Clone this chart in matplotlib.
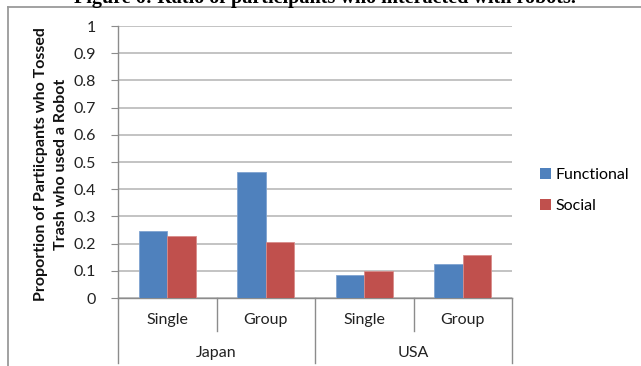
import matplotlib
matplotlib.use("Agg")
import matplotlib.pyplot as plt
import numpy as np
from matplotlib.lines import Line2D
from matplotlib.patches import Patch

# ---- data ----
countries = ["Japan", "USA"]
conditions = ["Single", "Group", "Single", "Group"]
series_names = ["Functional", "Social"]
functional = [0.247, 0.462, 0.083, 0.125]
social = [0.229, 0.206, 0.099, 0.158]
yticks = [0, 0.1, 0.2, 0.3, 0.4, 0.5, 0.6, 0.7, 0.8, 0.9, 1]
ytick_labels = ["0", "0.1", "0.2", "0.3", "0.4", "0.5", "0.6", "0.7", "0.8", "0.9", "1"]
title = "Figure 6: Ratio of participants who interacted with robots."
ylabel = "Proportion of Partiicpants who Tossed\nTrash who used a Robot"

BLUE = "#4F81BD"
RED = "#C0504D"
GRID = "#b3b3b3"
AXC = "#8c8c8c"
FONT = ["Lato", "DejaVu Sans"]
FS = 11.5

plt.rcParams["font.family"] = FONT

W, H = 641, 366
fig = plt.figure(figsize=(W / 100, H / 100), dpi=100)
ax = fig.add_axes([118 / W, 1 - 298 / H, (512 - 118) / W, (298 - 26) / H])

x = np.arange(len(conditions))
bw = 0.287
ax.bar(x - bw / 2, functional, bw, color=BLUE, edgecolor="#7fa3d0", linewidth=0.6, zorder=3,
       label=series_names[0])
ax.bar(x + bw / 2, social, bw, color=RED, edgecolor="#d88c8a", linewidth=0.6, zorder=3,
       label=series_names[1])

ax.set_xlim(-0.5, len(conditions) - 0.5)
ax.set_ylim(0, 1)
ax.set_yticks(yticks)
ax.set_yticklabels(ytick_labels, fontsize=FS, color="#222222")
ax.tick_params(axis="y", length=5, color=AXC, pad=11)
ax.set_xticks([])
ax.yaxis.grid(True, color=GRID, linewidth=1.1, zorder=0)
ax.set_axisbelow(True)
for s in ["top", "right"]:
    ax.spines[s].set_visible(False)
ax.spines["left"].set_color(AXC)
ax.spines["bottom"].set_color(AXC)
ax.spines["left"].set_linewidth(1.0)
ax.spines["bottom"].set_linewidth(1.0)

# multi-level category axis
trans = ax.get_xaxis_transform()
inner_b = [0.5, 2.5]
outer_b = [-0.5, 1.5, 3.5]
for b in inner_b:
    ax.add_line(Line2D([b, b], [0, -0.121], transform=trans, color=AXC, lw=1.0, clip_on=False))
for b in outer_b:
    ax.add_line(Line2D([b, b], [0, -0.24], transform=trans, color=AXC, lw=1.0, clip_on=False))
for xi, lab in zip(x, conditions):
    ax.text(xi, -0.081, lab, transform=trans, ha="center", va="center", fontsize=FS, color="#222222")
for i, c in enumerate(countries):
    ax.text(2 * i + 0.5, -0.202, c, transform=trans, ha="center", va="center", fontsize=FS, color="#222222")

fig.text(51 / W, 1 - 164 / H, ylabel, rotation=90, ha="center", va="center",
         fontsize=11.5, fontweight="bold", linespacing=1.6, color="#111111")

# legend
handles = [Patch(facecolor=BLUE), Patch(facecolor=RED)]
fig.legend(handles, series_names, loc="upper left", bbox_to_anchor=(540 / W, 1 - 168 / H),
           frameon=False, fontsize=FS, handlelength=0.7, handleheight=0.7,
           handletextpad=0.3, labelspacing=1.05, borderaxespad=0, borderpad=0)

# outer frame of the chart
fig.add_artist(Line2D([8 / W, 8 / W], [0, 1 - 7 / H], transform=fig.transFigure, color="#9a9a9a", lw=1.3))
fig.add_artist(Line2D([8 / W, 1], [1 - 7 / H, 1 - 7 / H], transform=fig.transFigure, color="#9a9a9a", lw=1.3))

# title (cut off at the top, as in the reference)
fig.text(325 / W, 1 - 3.5 / H, title, ha="center", va="baseline", fontsize=14.5,
         fontweight="bold", family=["Liberation Serif", "DejaVu Serif"], color="#000000")

fig.savefig("out.png", dpi=100)
